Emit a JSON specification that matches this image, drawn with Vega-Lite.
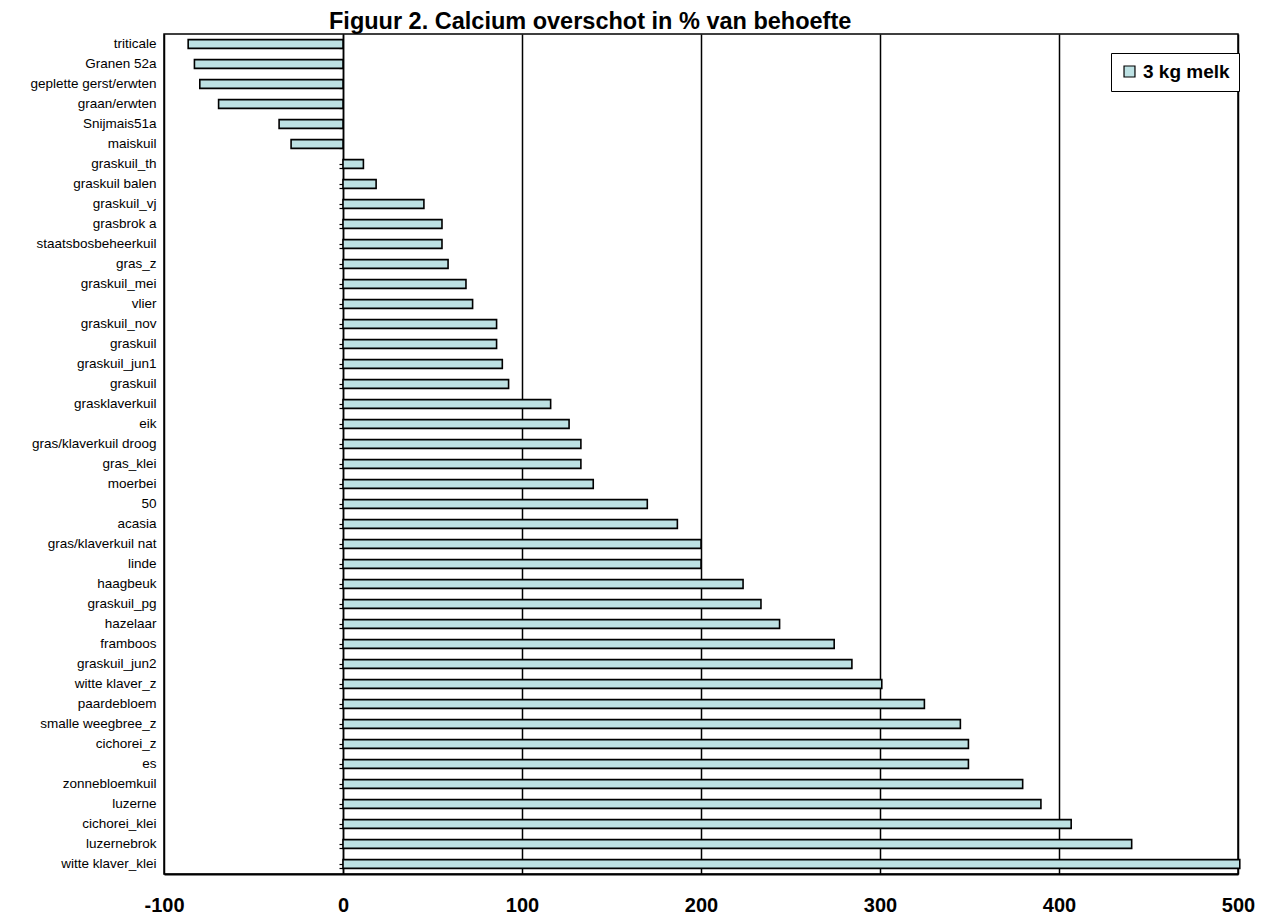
{
  "$schema": "https://vega.github.io/schema/vega-lite/v6.json",
  "autosize": "none",
  "padding": {"left": 164, "top": 34, "right": 35, "bottom": 44},
  "width": 1074,
  "height": 840,
  "background": "white",
  "title": {
    "text": "Figuur 2. Calcium overschot in % van behoefte",
    "anchor": "start",
    "frame": "group",
    "dx": 165,
    "offset": 1,
    "font": "Liberation Sans",
    "fontSize": 23.5,
    "fontWeight": "bold",
    "color": "black"
  },
  "config": {
    "view": {"stroke": "black", "strokeWidth": 1.5},
    "font": "Liberation Sans"
  },
  "data": {
    "values": [
      {"naam": "triticale", "waarde": -86.5, "serie": "3 kg melk"},
      {"naam": "Granen 52a", "waarde": -83, "serie": "3 kg melk"},
      {"naam": "geplette gerst/erwten", "waarde": -80, "serie": "3 kg melk"},
      {"naam": "graan/erwten", "waarde": -69.5, "serie": "3 kg melk"},
      {"naam": "Snijmais51a", "waarde": -35.7, "serie": "3 kg melk"},
      {"naam": "maiskuil", "waarde": -29, "serie": "3 kg melk"},
      {"naam": "graskuil_th", "waarde": 11.4, "serie": "3 kg melk"},
      {"naam": "graskuil balen", "waarde": 18.5, "serie": "3 kg melk"},
      {"naam": "graskuil_vj", "waarde": 45.2, "serie": "3 kg melk"},
      {"naam": "grasbrok a", "waarde": 55.3, "serie": "3 kg melk"},
      {"naam": "staatsbosbeheerkuil", "waarde": 55.3, "serie": "3 kg melk"},
      {"naam": "gras_z", "waarde": 58.7, "serie": "3 kg melk"},
      {"naam": "graskuil_mei", "waarde": 68.7, "serie": "3 kg melk"},
      {"naam": "vlier", "waarde": 72.4, "serie": "3 kg melk"},
      {"naam": "graskuil_nov", "waarde": 85.8, "serie": "3 kg melk"},
      {"naam": "graskuil", "waarde": 85.8, "serie": "3 kg melk"},
      {"naam": "graskuil_jun1", "waarde": 89, "serie": "3 kg melk"},
      {"naam": "graskuil ", "waarde": 92.5, "serie": "3 kg melk"},
      {"naam": "grasklaverkuil", "waarde": 116, "serie": "3 kg melk"},
      {"naam": "eik", "waarde": 126.3, "serie": "3 kg melk"},
      {"naam": "gras/klaverkuil droog", "waarde": 132.9, "serie": "3 kg melk"},
      {"naam": "gras_klei", "waarde": 132.9, "serie": "3 kg melk"},
      {"naam": "moerbei", "waarde": 139.8, "serie": "3 kg melk"},
      {"naam": "50", "waarde": 170, "serie": "3 kg melk"},
      {"naam": "acasia", "waarde": 186.8, "serie": "3 kg melk"},
      {"naam": "gras/klaverkuil nat", "waarde": 200, "serie": "3 kg melk"},
      {"naam": "linde", "waarde": 200, "serie": "3 kg melk"},
      {"naam": "haagbeuk", "waarde": 223.5, "serie": "3 kg melk"},
      {"naam": "graskuil_pg", "waarde": 233.5, "serie": "3 kg melk"},
      {"naam": "hazelaar", "waarde": 243.9, "serie": "3 kg melk"},
      {"naam": "framboos", "waarde": 274.4, "serie": "3 kg melk"},
      {"naam": "graskuil_jun2", "waarde": 284.3, "serie": "3 kg melk"},
      {"naam": "witte klaver_z", "waarde": 301, "serie": "3 kg melk"},
      {"naam": "paardebloem", "waarde": 324.8, "serie": "3 kg melk"},
      {"naam": "smalle weegbree_z", "waarde": 344.9, "serie": "3 kg melk"},
      {"naam": "cichorei_z", "waarde": 349.4, "serie": "3 kg melk"},
      {"naam": "es", "waarde": 349.4, "serie": "3 kg melk"},
      {"naam": "zonnebloemkuil", "waarde": 379.7, "serie": "3 kg melk"},
      {"naam": "luzerne", "waarde": 389.9, "serie": "3 kg melk"},
      {"naam": "cichorei_klei", "waarde": 406.8, "serie": "3 kg melk"},
      {"naam": "luzernebrok", "waarde": 440.6, "serie": "3 kg melk"},
      {"naam": "witte klaver_klei", "waarde": 501, "serie": "3 kg melk"}
    ]
  },
  "resolve": {"axis": {"y": "independent"}},
  "layer": [
    {
      "mark": {"type": "bar", "stroke": "black", "strokeWidth": 1.6},
      "encoding": {
        "y": {
          "field": "naam",
          "type": "nominal",
          "sort": null,
          "scale": {"paddingInner": 0.56, "paddingOuter": 0.28},
          "axis": {
            "orient": "left",
            "title": null,
            "domain": false,
            "ticks": false,
            "labelPadding": 8,
            "labelFontSize": 13.5,
            "labelColor": "black",
            "labelFont": "Liberation Sans"
          }
        },
        "x": {
          "field": "waarde",
          "type": "quantitative",
          "scale": {"domain": [-100, 500], "nice": false, "zero": false},
          "axis": {
            "title": null,
            "values": [-100, 0, 100, 200, 300, 400, 500],
            "labelExpr": "'' + datum.value",
            "grid": true,
            "gridColor": "black",
            "gridOpacity": 1,
            "gridWidth": 1.5,
            "domain": true,
            "domainColor": "black",
            "domainWidth": 2,
            "ticks": false,
            "labelPadding": 21,
            "labelFontSize": 20,
            "labelFontWeight": "bold",
            "labelColor": "black",
            "labelFont": "Liberation Sans",
            "labelFlush": false
          }
        },
        "color": {
          "field": "serie",
          "type": "nominal",
          "scale": {"range": ["#BDE1E3"]},
          "legend": {
            "title": null,
            "orient": "none",
            "legendX": 947,
            "legendY": 19,
            "padding": 9,
            "strokeColor": "black",
            "fillColor": "white",
            "symbolType": "square",
            "symbolSize": 120,
            "symbolStrokeColor": "black",
            "symbolStrokeWidth": 1.2,
            "labelFontSize": 19,
            "labelFontWeight": "bold",
            "labelColor": "black",
            "labelFont": "Liberation Sans"
          }
        }
      }
    },
    {
      "mark": {"type": "bar", "opacity": 0},
      "encoding": {
        "y": {
          "field": "naam",
          "type": "nominal",
          "sort": null,
          "axis": {
            "orient": "left",
            "offset": -179,
            "title": null,
            "labels": false,
            "domain": true,
            "domainColor": "black",
            "domainWidth": 1.5,
            "ticks": true,
            "tickBand": "extent",
            "tickColor": "black",
            "tickSize": 4,
            "tickWidth": 1.2
          }
        },
        "x": {"field": "waarde", "type": "quantitative"}
      }
    },
    {
      "mark": {"type": "bar", "opacity": 0},
      "encoding": {
        "y": {
          "field": "naam",
          "type": "nominal",
          "sort": null,
          "axis": {
            "orient": "left",
            "offset": -179,
            "title": null,
            "labels": false,
            "domain": false,
            "ticks": true,
            "tickColor": "black",
            "tickSize": 4,
            "tickWidth": 1.2
          }
        },
        "x": {"field": "waarde", "type": "quantitative"}
      }
    }
  ]
}
